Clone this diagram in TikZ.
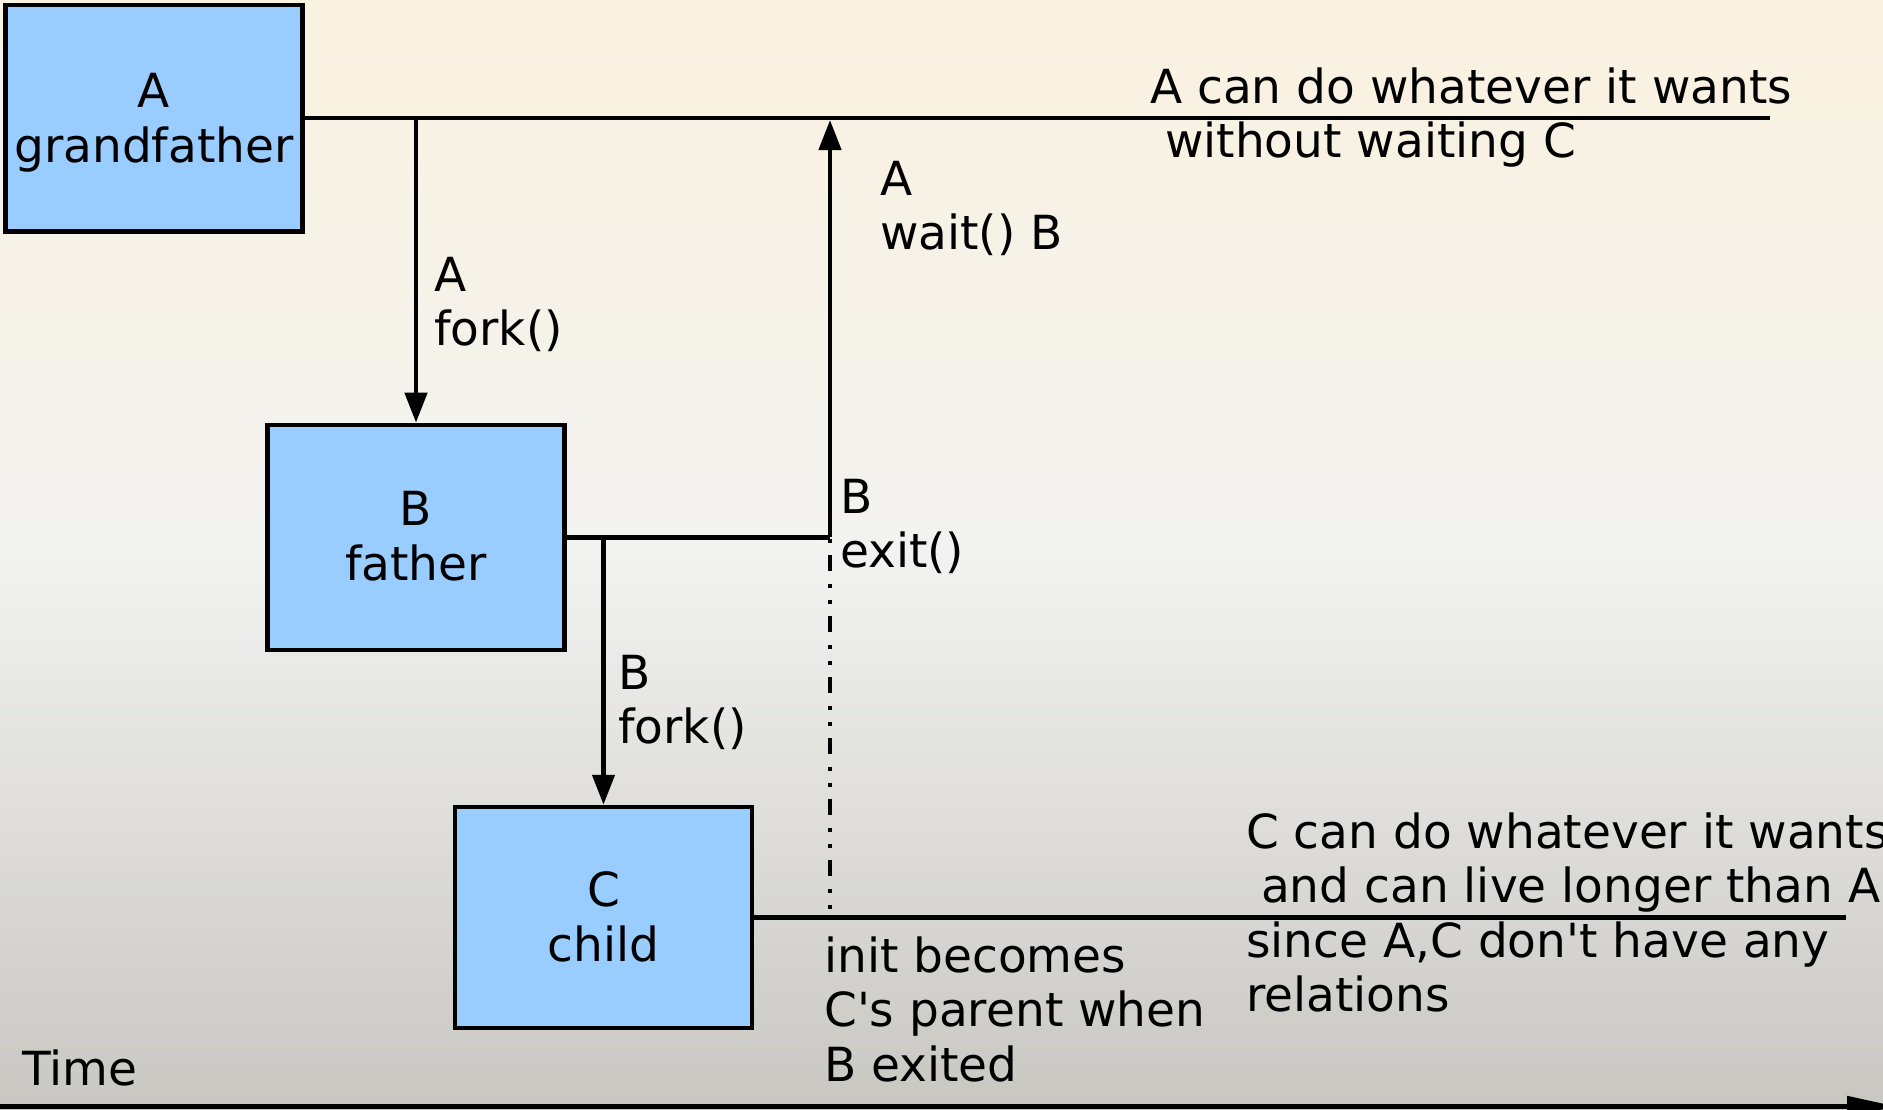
\documentclass[tikz,border=0pt]{standalone}
\usepackage{fontspec}
\setmainfont{DejaVu Sans}
\usetikzlibrary{arrows.meta}
\definecolor{boxblue}{HTML}{99CCFF}
\definecolor{bgtop}{HTML}{FAF2E0}
\definecolor{bgmid}{HTML}{F2F2F0}
\definecolor{bgbot}{HTML}{C8C7C2}
\begin{document}
\begin{tikzpicture}[x=1pt,y=-1pt,
  txt/.style={inner sep=0pt, font=\fontsize{47pt}{54.5pt}\selectfont},
  proc/.style={draw=black, line width=4.5pt, fill=boxblue, inner sep=0pt, minimum width=297pt},
  boxtext/.style={txt, align=center},
  lbl/.style={txt, align=left, anchor=north west},
  wire/.style={line width=4.5pt},
  arr/.style={wire, -{Triangle[length=30pt,width=22pt]}},
  axisarr/.style={line width=5pt, -{Triangle[length=50pt,width=20pt]}},
  dashdotline/.style={line width=4pt, dash pattern=on 4pt off 12pt on 16pt off 13pt on 4pt off 12pt}
]
\useasboundingbox (0,0) rectangle (1883,1109);
\shade[top color=bgtop, bottom color=bgbot, middle color=bgmid] (0,0) rectangle (1883,1109);

% process boxes
\node[proc, minimum height=226.5pt] (A) at (154,118) {};
\node[proc, minimum height=225pt] (B) at (416,537.4) {};
\node[proc, minimum height=221pt] (C) at (603.5,917.5) {};
\node[boxtext] (Atext) at (154,122.6) {A\\grandfather};
\node[boxtext] (Btext) at (416,536.1) {B\\father};
\node[boxtext] (Ctext) at (603.5,917.1) {C\\child};

% free ends
\coordinate (aend) at (1770,117);
\coordinate (bend) at (830,536);
\coordinate (cend) at (1846,917);
\coordinate (t0) at (-5,1106.5);
\coordinate (t1) at (1897,1106.5);

% life lines
\draw[wire] (A.east) -- (aend |- A.east);
\draw[wire] (B.east) -- (bend |- B.east);
\draw[wire] (C.east) -- (cend |- C.east);

% fork / wait / exit
\draw[arr] (A.east -| B.north) -- (B.north);
\draw[arr] (B.east -| C.north) -- (C.north);
\draw[arr] (bend |- B.east) -- ([yshift=-2pt]bend |- A.east);
\draw[dashdotline] ([yshift=-2pt]bend |- B.east) -- (bend |- C.east);

% time axis
\draw[axisarr] (t0) -- (t1);

% labels
\node[lbl] (lblA) at (1150,67.3) {A can do whatever it wants\\\hspace*{0.318em}without waiting C};
\node[lbl] (lblAfork) at (434,256.7) {A\\fork()};
\node[lbl] (lblAwait) at (880,160.7) {A\\wait() B};
\node[lbl] (lblBexit) at (840,478.7) {B\\exit()};
\node[lbl] (lblBfork) at (618,654.7) {B\\fork()};
\node[lbl] (lblC) at (1246,812.3) {C can do whatever it wants\\\hspace*{0.318em}and can live longer than A,\\since A,C don\textquotesingle t have any\\relations};
\node[lbl] (lblinit) at (824,936.3) {init becomes\\C\textquotesingle s parent when\\B exited};
\node[lbl] (lbltime) at (22,1049.3) {Time};
\end{tikzpicture}
\end{document}
